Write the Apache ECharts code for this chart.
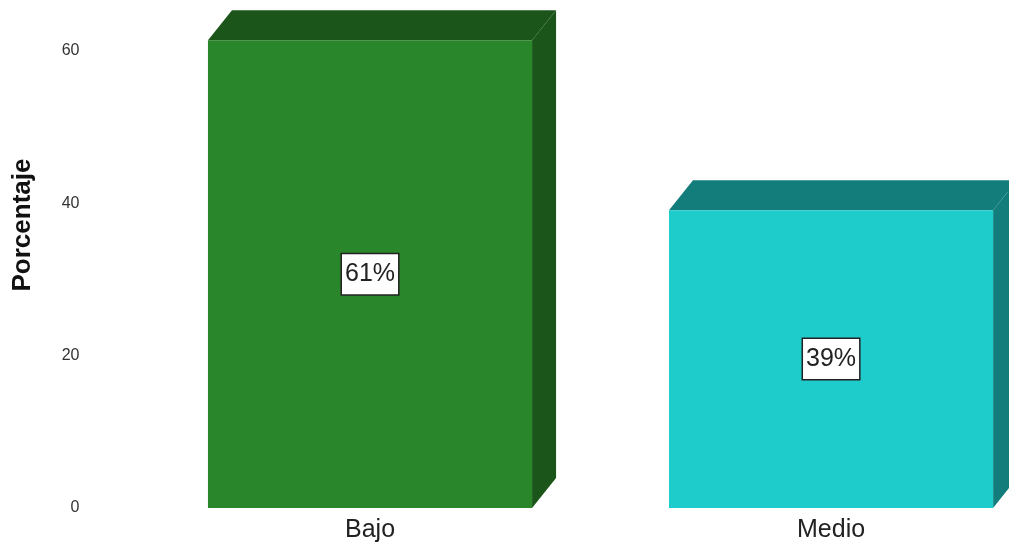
<!DOCTYPE html>
<html>
<head>
<meta charset="utf-8">
<script src="https://cdn.jsdelivr.net/npm/echarts@6/dist/echarts.min.js"></script>
<style>
html,body{margin:0;padding:0;background:#fff;}
#chart{width:1009px;height:544px;}
</style>
</head>
<body>
<div id="chart"></div>
<script>
const categories = ['Bajo', 'Medio'];
const values = [61.4, 39.1];
const valueLabels = ['61%', '39%'];
const yTicks = [0, 20, 40, 60];

const frontColors = ['#2A862A', '#1ECCCC'];
const shadeColors = ['#1B551A', '#127D7B'];

const chart = echarts.init(document.getElementById('chart'), null, {renderer: 'canvas'});

function renderItem(params, api) {
  const idx = api.value(0);
  const v = api.value(1);
  const top = api.coord([idx, v]);
  const base = api.coord([idx, 0]);
  const bw = api.size([1, 0])[0] * 0.703;
  const x0 = top[0] - bw / 2, x1 = top[0] + bw / 2;
  const y0 = top[1], y1 = base[1];
  const dx = 24, dy = 30;
  const i = params.dataIndex;
  return {
    type: 'group',
    children: [
      {type: 'polygon', shape: {points: [[x0, y0], [x0 + dx, y0 - dy], [x1 + dx, y0 - dy], [x1, y0]]},
        style: {fill: shadeColors[i]}},
      {type: 'polygon', shape: {points: [[x1, y0], [x1 + dx, y0 - dy], [x1 + dx, y1 - dy], [x1, y1]]},
        style: {fill: shadeColors[i]}},
      {type: 'rect', shape: {x: x0, y: y0, width: bw, height: y1 - y0},
        style: {fill: frontColors[i]}},
      {type: 'text', x: top[0], y: (y0 + y1) / 2,
        style: {
          text: valueLabels[i], fill: '#222', font: '25px "Liberation Sans", Arial, sans-serif',
          align: 'center', verticalAlign: 'middle',
          backgroundColor: '#fff', borderColor: '#222', borderWidth: 1.5, padding: [9, 3, 6, 3]
        }}
    ]
  };
}

chart.setOption({
  animation: false,
  backgroundColor: '#fff',
  grid: {left: 139.5, top: 5.3, right: 0, height: 502.7},
  xAxis: {
    type: 'value', min: -0.5, max: 1.386,
    axisLine: {show: false}, axisTick: {show: false}, splitLine: {show: false},
    axisLabel: {
      customValues: [0, 1],
      formatter: v => categories[Math.round(v)] || '',
      fontSize: 25, color: '#222', fontFamily: '"Liberation Sans", Arial, sans-serif', margin: 10
    }
  },
  yAxis: {
    type: 'value', min: 0, max: 66, interval: 20,
    axisLine: {show: false}, axisTick: {show: false}, splitLine: {show: false},
    axisLabel: {
      fontSize: 16, color: '#333', margin: 60, padding: [6, 0, 0, 0],
      fontFamily: '"Liberation Sans", Arial, sans-serif',
      formatter: v => (yTicks.indexOf(v) >= 0 ? String(v) : '')
    }
  },
  graphic: [{
    type: 'text', x: 23, y: 225, rotation: Math.PI / 2,
    style: {
      text: 'Porcentaje', fill: '#111', font: 'bold 26px "Liberation Sans", Arial, sans-serif',
      align: 'center', verticalAlign: 'middle'
    }
  }],
  series: [{
    type: 'custom',
    renderItem: renderItem,
    clip: false,
    encode: {x: 0, y: 1},
    data: values.map((v, i) => [i, v])
  }]
});
</script>
</body>
</html>
